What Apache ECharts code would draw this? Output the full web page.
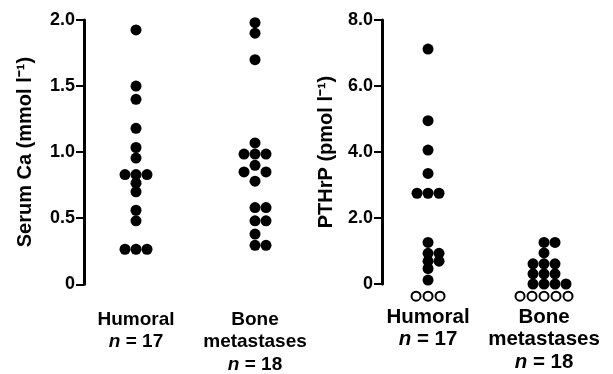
<!DOCTYPE html>
<html><head><meta charset="utf-8">
<script src="https://cdn.jsdelivr.net/npm/echarts@6/dist/echarts.min.js"></script>
<style>html,body{margin:0;padding:0;background:#fff}#c{width:613px;height:374px}</style>
</head><body><div id="c"></div>
<script>
// ---- data ----
const groups = ['Humoral', 'Bone\nmetastases'];
const groupN = [17, 18];
const caTicks = [0, 0.5, 1.0, 1.5, 2.0];
const pthrpTicks = [0, 2, 4, 6, 8];
const humoralCa = [1.925, 1.50, 1.40, 1.18, 1.035, 0.955, 0.83, 0.83, 0.83, 0.765, 0.70, 0.56, 0.48, 0.265, 0.265, 0.265];
const boneCa = [1.98, 1.90, 1.70, 1.07, 0.985, 0.985, 0.985, 0.90, 0.85, 0.85, 0.78, 0.58, 0.58, 0.48, 0.48, 0.38, 0.295, 0.295];
const humoralPthrp = [7.12, 4.95, 4.06, 3.35, 2.75, 2.75, 2.75, 1.26, 0.93, 0.93, 0.69, 0.69, 0.47, 0.12];
const bonePthrp = [1.26, 1.26, 0.94, 0.61, 0.61, 0.61, 0.31, 0.31, 0.31, 0.0, 0.0, 0.0, 0.0];
const pthrpBelowLimit = [3, 5];          // undetectable PTHrP samples per group
const BELOW_LIMIT_PLOT = -0.37;          // where undetectable samples are plotted

// ---- layout ----
const FONT = '"Liberation Sans", Arial, sans-serif';
const G = [
  {left: 84, top: 20, width: 231, height: 265, xMin: 0.563, xMax: 2.504, yMax: 2, yInt: 0.5},
  {left: 382, top: 20, width: 220, height: 264, xMin: 0.603, xMax: 2.5, yMax: 8, yInt: 2}
];
const DOT = 11, OPEN_STEP = 12, MIN_GAP = 7;

function swarm(values, center, g, stepPx) {
  const xppu = g.width / (g.xMax - g.xMin), yppu = g.height / g.yMax;
  const order = [0, 1, -1, 2, -2, 3, -3];
  const placed = [];
  return values.map(v => {
    const slot = order.find(s => !placed.some(p => p.s === s && Math.abs(p.v - v) * yppu < MIN_GAP));
    placed.push({s: slot, v: v});
    return [center + slot * stepPx / xppu, v];
  });
}
function below(n) { return Array.from({length: n}, () => BELOW_LIMIT_PLOT); }

function catLabel(v) {
  const i = Math.round(v) - 1;
  const lines = groups[i].split('\n').map(s => '{b|' + s + '}');
  lines.push('{i|n}{b| = ' + groupN[i] + '}');
  return lines.join('\n');
}
function xAxis(gi, fs, margin) {
  const g = G[gi];
  return {
    gridIndex: gi, type: 'value', min: g.xMin, max: g.xMax,
    axisLine: {show: false}, axisTick: {show: false}, splitLine: {show: false},
    axisLabel: {
      customValues: [1, 2], margin: margin, formatter: catLabel,
      rich: {
        b: {fontFamily: FONT, fontWeight: 'bold', fontSize: fs, color: '#000', lineHeight: 22.5},
        i: {fontFamily: FONT, fontWeight: 'bold', fontStyle: 'italic', fontSize: fs, color: '#000', lineHeight: 22.5}
      }
    }
  };
}
function yAxis(gi, name, ticks, gap) {
  const g = G[gi];
  return {
    gridIndex: gi, type: 'value', min: ticks[0], max: ticks[ticks.length - 1], interval: g.yInt,
    name: name, nameLocation: 'middle', nameGap: gap,
    nameTextStyle: {fontFamily: FONT, fontWeight: 'bold', fontSize: 20, color: '#000'},
    axisLine: {show: true, onZero: false, lineStyle: {color: '#000', width: 3}},
    axisTick: {show: true, length: 8, lineStyle: {color: '#000', width: 2}},
    splitLine: {show: false},
    axisLabel: {fontFamily: FONT, fontWeight: 'bold', fontSize: 18, color: '#000', margin: 9,
      formatter: v => v === 0 ? '0' : v.toFixed(1)}
  };
}
function filled(gi, data) {
  return {type: 'scatter', xAxisIndex: gi, yAxisIndex: gi, data: data, symbol: 'circle',
    symbolSize: DOT, itemStyle: {color: '#000', opacity: 1}, clip: false, silent: true};
}
function open(gi, data) {
  return {type: 'scatter', xAxisIndex: gi, yAxisIndex: gi, data: data, symbol: 'circle',
    symbolSize: 9, itemStyle: {color: '#fff', borderColor: '#000', borderWidth: 2, opacity: 1}, clip: false, silent: true};
}

const chart = echarts.init(document.getElementById('c'), null, {renderer: 'canvas'});
chart.setOption({
  animation: false,
  backgroundColor: '#fff',
  grid: G.map(g => ({left: g.left, top: g.top, width: g.width, height: g.height})),
  xAxis: [xAxis(0, 19, 24), xAxis(1, 20.5, 22)],
  yAxis: [yAxis(0, 'Serum Ca (mmol l\u207B\u00B9)', caTicks, 49), yAxis(1, 'PTHrP (pmol l\u207B\u00B9)', pthrpTicks, 46)],
  series: [
    filled(0, swarm(humoralCa, 1, G[0], DOT)),
    filled(0, swarm(boneCa, 2, G[0], DOT)),
    filled(1, swarm(humoralPthrp, 1, G[1], DOT)),
    filled(1, swarm(bonePthrp, 2, G[1], DOT)),
    open(1, swarm(below(pthrpBelowLimit[0]), 1, G[1], OPEN_STEP).concat(
            swarm(below(pthrpBelowLimit[1]), 2, G[1], OPEN_STEP)))
  ]
});
</script></body></html>
